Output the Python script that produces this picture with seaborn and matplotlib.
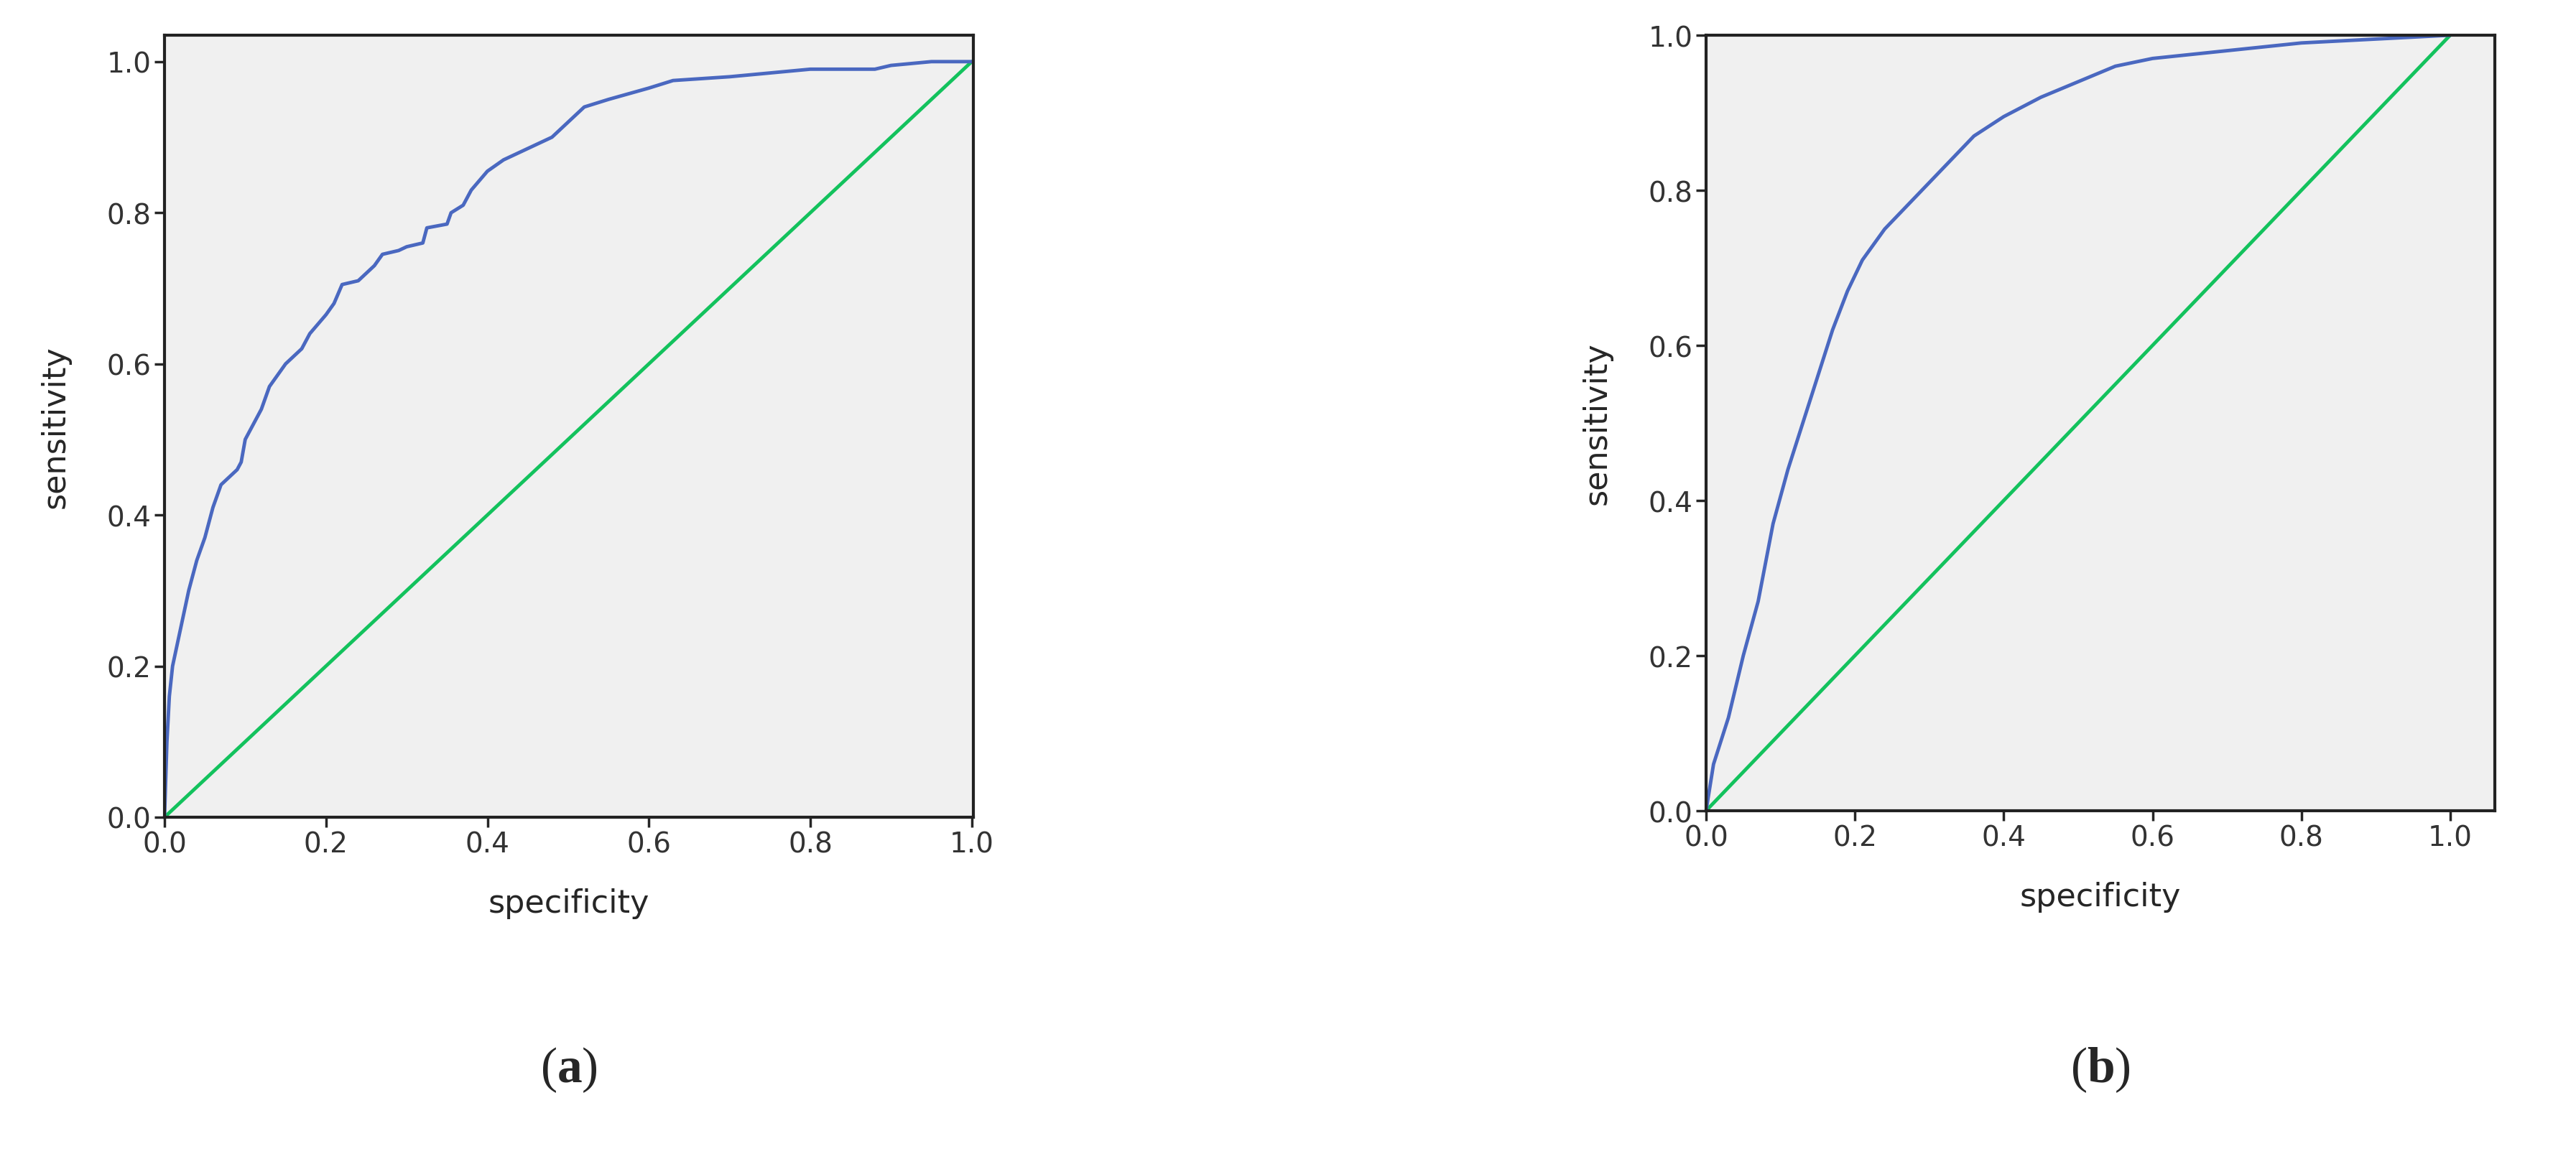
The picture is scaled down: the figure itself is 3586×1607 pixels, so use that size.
import matplotlib
matplotlib.use("Agg")
import matplotlib.pyplot as plt
import seaborn as sns
import pandas as pd

a_spec = [0,0.003,0.006,0.01,0.02,0.03,0.04,0.05,0.06,0.07,0.08,0.09,0.095,0.1,0.11,0.12,0.13,0.15,0.17,0.18,0.2,0.21,0.22,0.24,0.26,0.27,0.29,0.3,0.32,0.325,0.35,0.355,0.37,0.38,0.4,0.42,0.44,0.46,0.48,0.5,0.52,0.55,0.6,0.63,0.7,0.75,0.8,0.88,0.9,0.95,1.0]
a_sens = [0,0.1,0.16,0.2,0.25,0.3,0.34,0.37,0.41,0.44,0.45,0.46,0.47,0.5,0.52,0.54,0.57,0.6,0.62,0.64,0.665,0.68,0.705,0.71,0.73,0.745,0.75,0.755,0.76,0.78,0.785,0.8,0.81,0.83,0.855,0.87,0.88,0.89,0.9,0.92,0.94,0.95,0.965,0.975,0.98,0.985,0.99,0.99,0.995,1.0,1.0]
b_spec = [0,0.01,0.03,0.05,0.07,0.09,0.11,0.13,0.15,0.17,0.19,0.21,0.24,0.27,0.3,0.33,0.36,0.4,0.45,0.5,0.55,0.6,0.7,0.8,0.9,1.0]
b_sens = [0,0.06,0.12,0.2,0.27,0.37,0.44,0.5,0.56,0.62,0.67,0.71,0.75,0.78,0.81,0.84,0.87,0.895,0.92,0.94,0.96,0.97,0.98,0.99,0.995,1.0]
ref = [0, 1]
ticks = [0.0, 0.2, 0.4, 0.6, 0.8, 1.0]
tick_labels = ["0.0", "0.2", "0.4", "0.6", "0.8", "1.0"]
panel_labels = ["a", "b"]

sns.set_style("ticks")
plt.rcParams['font.family'] = ['DejaVu Sans']
plt.rcParams['mathtext.fontset'] = 'custom'
plt.rcParams['mathtext.rm'] = 'Liberation Serif'
plt.rcParams['mathtext.bf'] = 'Liberation Serif:bold'
W, H = 3587, 1608
fig = plt.figure(figsize=(W/100, H/100), dpi=100)

def px(l, t, r, b):
    return [l/W, 1-b/H, (r-l)/W, (b-t)/H]

panels = [
    (a_spec, a_sens, px(229, 50, 1355, 1139), (0, 1.002), (0, 1.035)),
    (b_spec, b_sens, px(2375, 50, 3473, 1130), (0, 1.06), (0, 1.0)),
]
for i, (xs, ys, rect, xl, yl) in enumerate(panels):
    ax = fig.add_axes(rect)
    ax.set_facecolor("#f0f0f0")
    sns.lineplot(x=ref, y=ref, ax=ax, color="#13c25d", linewidth=3.5, estimator=None, sort=False)
    sns.lineplot(x=xs, y=ys, ax=ax, color="#4a68c0", linewidth=3.5, estimator=None, sort=False)
    ax.set_xlim(*xl); ax.set_ylim(*yl)
    ax.set_xticks(ticks); ax.set_yticks(ticks)
    ax.set_xticklabels(tick_labels, fontsize=28, color="#333333")
    ax.set_yticklabels(tick_labels, fontsize=28, color="#333333")
    ax.tick_params(length=10, width=2.5, direction="out")
    for s in ax.spines.values():
        s.set_linewidth(3); s.set_color("#222222")
    ax.set_xlabel("specificity", fontsize=32, labelpad=30)
    ax.set_ylabel("sensitivity", fontsize=32, labelpad=36)
    cx = rect[0] + rect[2]/2
    fig.text(cx, 1-1490/H, r"($\mathbf{%s}$)" % panel_labels[i], fontsize=50,
             family="Liberation Serif", ha="center", va="center")

fig.savefig("out.png", dpi=100, facecolor="white")
